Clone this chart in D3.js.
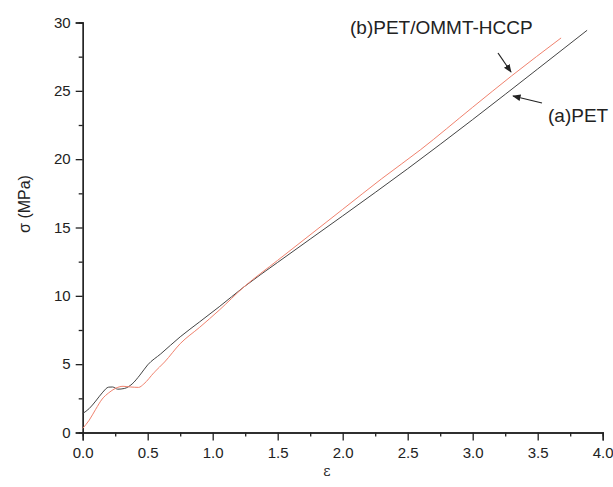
<!DOCTYPE html>
<html lang="en">
<head>
  <meta charset="UTF-8">
  <title>stress-strain</title>
  <style>
    body { margin: 0; background: #fff; }
    svg text { font-family: Arial, "Liberation Sans", sans-serif; fill: #222; }
    .axis .domain, .axis line { stroke: #222; stroke-width: 1.3; }
    .axis text { font-size: 15px; }
  </style>
</head>
<body>
<svg width="613" height="487"></svg>
<script src="https://d3js.org/d3.v7.min.js"></script>
<script>
  // (a) PET
  var petX = [0, 0.05, 0.1, 0.15, 0.2, 0.23, 0.27, 0.32, 0.38, 0.44, 0.5, 0.6, 0.75, 0.9, 1.05, 1.24, 1.5, 2.0, 2.5, 3.0, 3.5, 3.88];
  var petY = [1.39, 1.75, 2.3, 2.9, 3.32, 3.33, 3.17, 3.22, 3.55, 4.2, 4.95, 5.75, 7.0, 8.1, 9.2, 10.65, 12.45, 15.85, 19.3, 22.9, 26.6, 29.43];
  // (b) PET/OMMT-HCCP
  var hccpX = [0, 0.05, 0.1, 0.15, 0.2, 0.25, 0.31, 0.37, 0.43, 0.47, 0.55, 0.63, 0.75, 0.9, 1.05, 1.24, 1.5, 2.0, 2.3, 2.6, 3.0, 3.3, 3.68];
  var hccpY = [0.3, 0.9, 1.7, 2.45, 2.9, 3.22, 3.38, 3.33, 3.3, 3.55, 4.4, 5.16, 6.5, 7.7, 8.95, 10.65, 12.6, 16.33, 18.57, 20.7, 23.8, 26.1, 28.87];

  var xTicks = [0, 0.5, 1.0, 1.5, 2.0, 2.5, 3.0, 3.5, 4.0];
  var yTicks = [0, 5, 10, 15, 20, 25, 30];

  var svg = d3.select("svg"),
      margin = {top: 22.5, left: 82.7},
      width = 520,
      height = 410;

  var g = svg.append("g").attr("transform", "translate(" + margin.left + "," + margin.top + ")");

  var x = d3.scaleLinear().domain([0, 4]).range([0, width]);
  var y = d3.scaleLinear().domain([0, 30]).range([height, 0]);

  // minor ticks first
  g.append("g").attr("class", "axis")
      .attr("transform", "translate(0," + height + ")")
      .call(d3.axisBottom(x).tickValues(d3.range(0.25, 4, 0.5)).tickSize(4).tickFormat(""));
  g.append("g").attr("class", "axis")
      .call(d3.axisLeft(y).tickValues(d3.range(2.5, 30, 5)).tickSize(4).tickFormat(""));

  g.append("g").attr("class", "axis")
      .attr("transform", "translate(0," + height + ")")
      .call(d3.axisBottom(x).tickValues(xTicks).tickSize(8).tickPadding(5).tickFormat(d3.format(".1f")))
      .selectAll("text").attr("dy", "0.85em");
  g.append("g").attr("class", "axis")
      .call(d3.axisLeft(y).tickValues(yTicks).tickSize(7).tickPadding(5).tickFormat(d3.format("d")));

  var line = d3.line()
      .x(function(d) { return x(d[0]); })
      .y(function(d) { return y(d[1]); })
      .curve(d3.curveMonotoneX);

  g.append("path")
      .datum(d3.zip(petX, petY))
      .attr("fill", "none")
      .attr("stroke", "#444")
      .attr("stroke-width", 1)
      .attr("d", line);

  g.append("path")
      .datum(d3.zip(hccpX, hccpY))
      .attr("fill", "none")
      .attr("stroke", "#f0826e")
      .attr("stroke-width", 1)
      .attr("d", line);

  // arrows
  svg.append("defs").append("marker")
      .attr("id", "head")
      .attr("viewBox", "0 0 10 10")
      .attr("refX", 9).attr("refY", 5)
      .attr("markerWidth", 7).attr("markerHeight", 7)
      .attr("orient", "auto")
      .append("path").attr("d", "M0,1 L10,5 L0,9 Z").attr("fill", "#222");

  svg.append("line")
      .attr("x1", 498).attr("y1", 53).attr("x2", 511).attr("y2", 72)
      .attr("stroke", "#222").attr("stroke-width", 1.2)
      .attr("marker-end", "url(#head)");
  svg.append("line")
      .attr("x1", 542).attr("y1", 103).attr("x2", 513).attr("y2", 96)
      .attr("stroke", "#222").attr("stroke-width", 1.2)
      .attr("marker-end", "url(#head)");

  svg.append("text")
      .attr("x", 350).attr("y", 34)
      .style("font-size", "19px")
      .text("(b)PET/OMMT-HCCP");
  svg.append("text")
      .attr("x", 548).attr("y", 122)
      .style("font-size", "19px")
      .text("(a)PET");

  // axis titles
  svg.append("text")
      .attr("transform", "translate(30,204) rotate(-90)")
      .attr("text-anchor", "middle")
      .style("font-size", "16px")
      .text("σ (MPa)");
  svg.append("text")
      .attr("x", 327).attr("y", 476)
      .attr("text-anchor", "middle")
      .style("font-family", "'DejaVu Serif', serif")
      .style("font-size", "14px")
      .text("ε");
</script>
</body>
</html>
